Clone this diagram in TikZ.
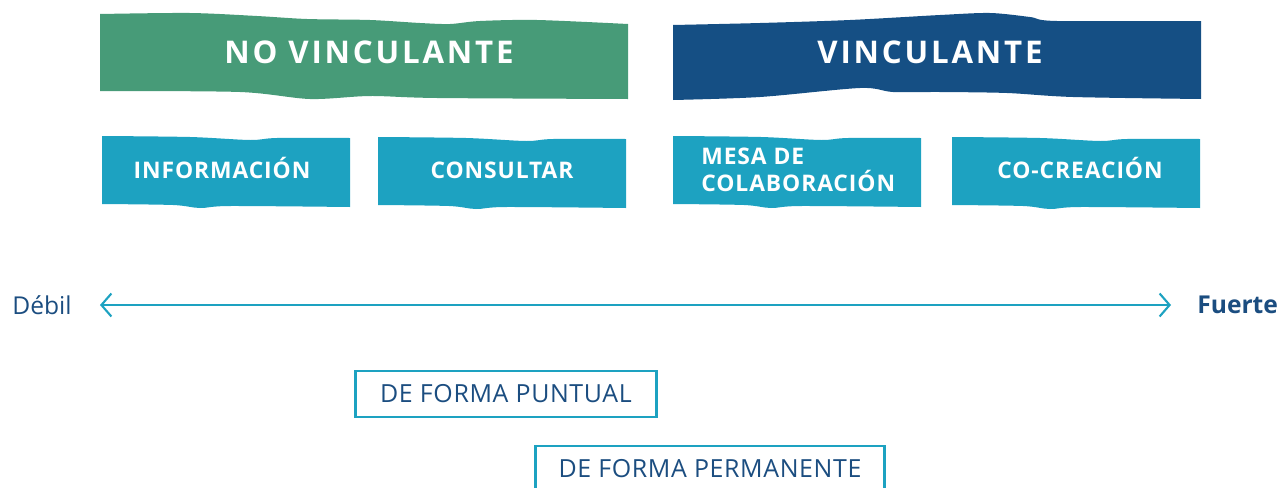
\documentclass[tikz,border=0pt]{standalone}
\usepackage{fontspec}
\setmainfont{Open Sans}
\newfontfamily\trackfont{Open Sans}[LetterSpace=9]
\newfontfamily\chipfont{Open Sans}[LetterSpace=4]
\newfontfamily\framefont{Open Sans}[LetterSpace=2.5]
\usetikzlibrary{arrows.meta}
\definecolor{vgreen}{HTML}{479B78}
\definecolor{vblue}{HTML}{154F84}
\definecolor{vcyan}{HTML}{1DA2C1}
\definecolor{vtext}{HTML}{1B4D80}

\begin{document}
\begin{tikzpicture}[x=0.02cm, y=-0.02cm,
    banner/.style={text=white, anchor=base, font=\trackfont\bfseries\fontsize{17.8}{20}\selectfont},
    chip/.style={text=white, anchor=base, font=\chipfont\bfseries\fontsize{13}{15.4}\selectfont},
    frame/.style={draw=vcyan, line width=1.5pt, text=vtext, minimum height=0.92cm, font=\framefont\fontsize{14.2}{16}\selectfont},
    torn/.pic={\fill[pic actions] plot[smooth] coordinates {(0,0) (88,1) (148,4) (175,2) (248,2)} -- plot[smooth] coordinates {(248,71) (128,70) (98,72) (71,69) (0,68)} -- cycle;}]
    \useasboundingbox (0,0) rectangle (1281,487);

    % banners
    \fill[vgreen] plot[smooth] coordinates {(100,14) (190,13) (257,16) (307,19) (370,20) (420,23) (450,24) (480,21) (537,20) (628,24)}
        -- plot[smooth] coordinates {(628,99) (437,98) (370,96) (310,99) (240,92) (100,91)} -- cycle;
    \fill[vblue] plot[smooth] coordinates {(673,25) (760,23) (850,20) (940,15) (990,13) (1030,17) (1057,21) (1201,21)}
        -- plot[smooth] coordinates {(1201,99) (1073,97) (1007,93) (940,92) (893,92) (860,88) (760,97) (673,100)} -- cycle;
    \node[banner] (novinc) at (369,63) {NO VINCULANTE};
    \node[banner] (vinc) at (930,63) {VINCULANTE};

    % levels
    \pic[fill=vcyan] at (102,136) {torn};
    \pic[fill=vcyan] at (378,137) {torn};
    \pic[fill=vcyan] at (673,136) {torn};
    \pic[fill=vcyan] at (952,137) {torn};
    \node[chip] (info) at (222,178) {INFORMACIÓN};
    \node[chip] (consult) at (502,178) {CONSULTAR};
    \node[chip, anchor=west, align=left, inner sep=0] (mesa) at (701,170) {MESA DE\\COLABORACIÓN};
    \node[chip] (cocrea) at (1080,178) {CO-CREACIÓN};

    % scale
    \node[anchor=east, inner sep=0, text=vtext, font=\fontsize{14}{16}\selectfont] (debil) at (72,305) {Débil};
    \node[anchor=west, inner sep=0, text=vtext, font=\bfseries\fontsize{14}{16}\selectfont] (fuerte) at (1197,305) {Fuerte};
    \draw[vcyan, line width=1.2pt, {Straight Barb[length=0.2cm, width=0.46cm]}-{Straight Barb[length=0.2cm, width=0.46cm]},
        shorten <=0.56cm, shorten >=0.52cm] (debil) -- (fuerte);

    % duration
    \node[frame, minimum width=6.02cm] (puntual) at (506,394) {DE FORMA PUNTUAL};
    \node[frame, minimum width=6.98cm] (permanente) at (710,469) {DE FORMA PERMANENTE};
\end{tikzpicture}
\end{document}
